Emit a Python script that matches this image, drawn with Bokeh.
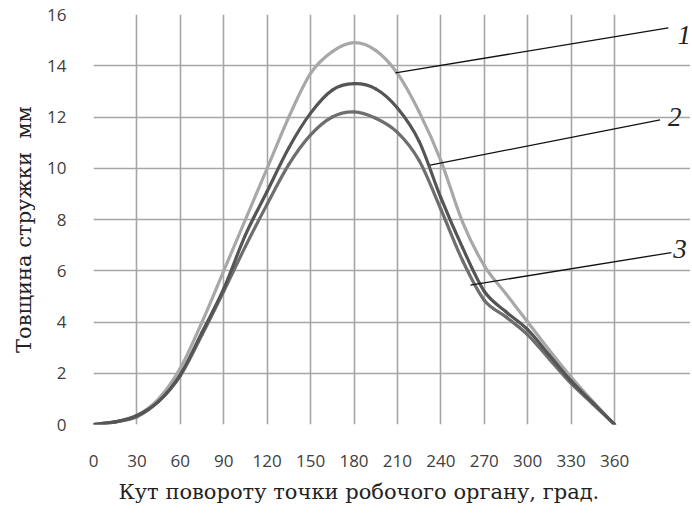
from bokeh.plotting import figure
from bokeh.models import Range1d, FixedTicker, Label, Title
from bokeh.embed import file_html
from bokeh.resources import INLINE

# Data
angle = [0, 15, 30, 45, 60, 75, 90, 105, 120, 135, 150, 165, 180, 195, 210, 225, 240, 255, 270, 285, 300, 315, 330, 345, 360]
curve1 = [0, 0.1, 0.35, 1.0, 2.2, 4.0, 6.0, 8.0, 10.0, 12.0, 13.7, 14.55, 14.9, 14.6, 13.7, 12.2, 10.3, 7.9, 6.2, 5.1, 4.0, 2.9, 1.85, 0.9, 0]
curve2 = [0, 0.1, 0.35, 0.9, 1.95, 3.6, 5.3, 7.4, 9.1, 10.8, 12.15, 13.05, 13.3, 13.1, 12.35, 11.05, 8.85, 6.9, 5.2, 4.4, 3.7, 2.7, 1.7, 0.85, 0]
curve3 = [0, 0.1, 0.3, 0.9, 1.9, 3.5, 5.2, 6.95, 8.6, 10.15, 11.3, 12.0, 12.2, 11.95, 11.4, 10.3, 8.4, 6.4, 4.85, 4.2, 3.5, 2.55, 1.6, 0.8, 0]
x_ticks = list(range(0, 361, 30))
y_ticks = list(range(0, 17, 2))

x_title = "Кут повороту точки робочого органу, град."
y_title = "Товщина стружки\u00a0\u00a0мм\u00a0\u00a0\u00a0"

# Callout annotations: curve point -> label end
call_names = ["1", "2", "3"]
call_x0 = [208.6, 232.6, 260.4]
call_y0 = [13.72, 10.12, 5.44]
call_x1 = [397.2, 391.5, 399.3]
call_y1 = [15.48, 11.89, 6.71]
label_x = [403.5, 397.0, 400.5]
label_y = [15.2, 12.0, 6.85]


def smooth_segments(xs, ys):
    """Smoothed-line rendering (cubic Bezier through every data point)."""
    n = len(xs)
    out = dict(x0=[], y0=[], x1=[], y1=[], cx0=[], cy0=[], cx1=[], cy1=[])
    for i in range(n - 1):
        a = max(i - 1, 0)
        b = min(i + 2, n - 1)
        out["x0"].append(xs[i]); out["y0"].append(ys[i])
        out["x1"].append(xs[i + 1]); out["y1"].append(ys[i + 1])
        out["cx0"].append(xs[i] + (xs[i + 1] - xs[a]) / 6)
        out["cy0"].append(ys[i] + (ys[i + 1] - ys[a]) / 6)
        out["cx1"].append(xs[i + 1] - (xs[b] - xs[i]) / 6)
        out["cy1"].append(ys[i + 1] - (ys[b] - ys[i]) / 6)
    return out


p = figure(width=690, height=512, output_backend="svg", toolbar_location=None,
           x_range=Range1d(0, 412.5), y_range=Range1d(0, 16),
           min_border_left=93, min_border_right=0, min_border_top=14, min_border_bottom=86)
p.outline_line_color = None
p.background_fill_color = "white"
p.border_fill_color = "white"

grid_col = "#a6a6a6"
p.xgrid.ticker = FixedTicker(ticks=x_ticks)
p.ygrid.ticker = FixedTicker(ticks=y_ticks)
p.xgrid.grid_line_color = grid_col
p.ygrid.grid_line_color = grid_col
p.xgrid.grid_line_width = 1.6
p.ygrid.grid_line_width = 1.6
p.ygrid.bounds = (0, 360)

for ax in (p.xaxis[0], p.yaxis[0]):
    ax.axis_line_color = None
    ax.major_tick_line_color = None
    ax.minor_tick_line_color = None
    ax.major_label_text_font = "Open Sans"
    ax.major_label_text_font_size = "17px"
    ax.major_label_text_color = "#404040"
p.xaxis.ticker = FixedTicker(ticks=x_ticks)
p.yaxis.ticker = FixedTicker(ticks=y_ticks)
p.xaxis.major_label_standoff = 24
p.yaxis.major_label_standoff = 21

p.yaxis.axis_label = y_title
p.yaxis.axis_label_text_font = "DejaVu Serif"
p.yaxis.axis_label_text_font_style = "normal"
p.yaxis.axis_label_text_font_size = "21px"
p.yaxis.axis_label_text_color = "#222222"
p.yaxis.axis_label_standoff = 8

p.add_layout(Title(text=x_title, align="left", offset=25, text_font="DejaVu Serif",
                   text_font_style="normal", text_font_size="21px", text_color="#222222",
                   standoff=17), "below")

for ys, col in ((curve1, "#a8a8a8"), (curve3, "#6e6e6e"), (curve2, "#555555")):
    seg = smooth_segments(angle, ys)
    p.bezier(source=seg, x0="x0", y0="y0", x1="x1", y1="y1", cx0="cx0", cy0="cy0",
             cx1="cx1", cy1="cy1", line_color=col, line_width=3.2, line_cap="round")

p.segment(x0=call_x0, y0=call_y0, x1=call_x1, y1=call_y1, line_color="#111111", line_width=1.3)
for name, lx, ly in zip(call_names, label_x, label_y):
    p.add_layout(Label(x=lx, y=ly, text=name, text_font="Liberation Serif", text_font_style="italic",
                       text_font_size="27px", text_color="#222222", text_baseline="middle", text_align="left"))

open("out.html", "w").write(file_html(p, INLINE))
